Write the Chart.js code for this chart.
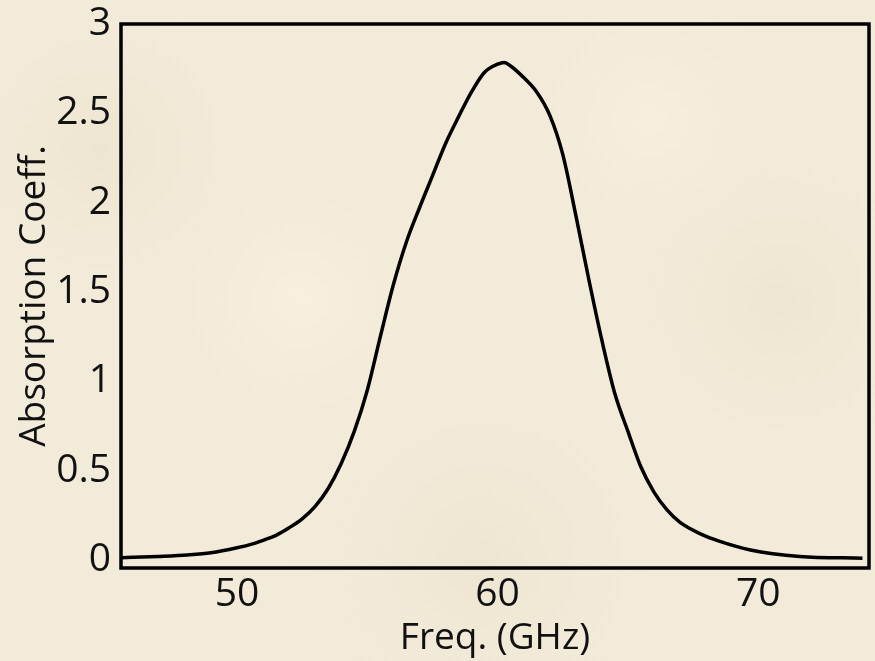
<!DOCTYPE html>
<html>
<head>
<meta charset="utf-8">
<script src="https://cdn.jsdelivr.net/npm/chart.js@4/dist/chart.umd.min.js"></script>
<style>
  html, body { margin: 0; padding: 0; background: #f2ebd9; }
  #wrap { width: 875px; height: 661px; position: relative; }
</style>
</head>
<body>
<div id="wrap"><canvas id="c" width="875" height="661"></canvas></div>
<script>
// ---- data ----
const freqGHz = [45.5, 47.0, 48.1, 49.0, 50.0, 50.6, 51.0, 51.5, 52.0, 52.5, 53.0, 53.5, 54.0, 54.5, 55.0, 55.5, 56.0, 56.5, 57.0, 57.5, 58.0, 58.5, 59.0, 59.5, 60.0, 60.25, 60.5, 61.0, 61.5, 62.0, 62.5, 63.0, 63.5, 64.0, 64.5, 65.0, 65.5, 66.0, 66.5, 67.0, 67.8, 68.5, 69.7, 71.6, 74.0];
const absorption = [0.012, 0.02, 0.028, 0.04, 0.068, 0.09, 0.11, 0.138, 0.18, 0.23, 0.30, 0.40, 0.54, 0.72, 0.95, 1.25, 1.54, 1.78, 1.97, 2.15, 2.33, 2.48, 2.62, 2.73, 2.775, 2.785, 2.765, 2.70, 2.62, 2.49, 2.27, 1.93, 1.57, 1.23, 0.93, 0.72, 0.52, 0.38, 0.28, 0.21, 0.145, 0.105, 0.056, 0.02, 0.01];
const xTicks = [50, 60, 70];
const xTickLabels = ['50', '60', '70'];
const yTicks = [0, 0.5, 1, 1.5, 2, 2.5, 3];
const yTickLabels = ['0', '0.5', '1', '1.5', '2', '2.5', '3'];
const xTitle = 'Freq. (GHz)';
const yTitle = 'Absorption Coeff.';

const points = freqGHz.map((f, i) => ({ x: f, y: absorption[i] }));

const bgPlugin = {
  id: 'bg',
  beforeDraw(chart) {
    const ctx = chart.ctx;
    ctx.save();
    ctx.fillStyle = '#f2ebd9';
    ctx.fillRect(0, 0, chart.width, chart.height);
    const spots = [[100, 150, 160, 'rgba(232,223,200,0.5)'], [780, 300, 180, 'rgba(232,223,200,0.45)'],
                   [480, 560, 200, 'rgba(228,219,196,0.35)'], [300, 300, 150, 'rgba(250,244,228,0.6)'],
                   [650, 120, 140, 'rgba(250,244,228,0.5)']];
    spots.forEach(([x, y, r, c]) => {
      const g = ctx.createRadialGradient(x, y, 0, x, y, r);
      g.addColorStop(0, c);
      g.addColorStop(1, 'rgba(242,235,217,0)');
      ctx.fillStyle = g;
      ctx.fillRect(0, 0, chart.width, chart.height);
    });
    ctx.restore();
  },
  afterDatasetsDraw(chart) {
    const { ctx, chartArea: a } = chart;
    ctx.save();
    ctx.strokeStyle = '#000';
    ctx.lineWidth = 3.5;
    ctx.strokeRect(a.left, a.top, a.right - a.left, a.bottom - a.top);
    ctx.restore();
  }
};

new Chart(document.getElementById('c'), {
  type: 'line',
  data: {
    datasets: [{
      data: points,
      borderColor: '#000',
      borderWidth: 3.5,
      pointRadius: 0,
      fill: false,
      cubicInterpolationMode: 'monotone'
    }]
  },
  options: {
    responsive: false,
    animation: false,
    layout: { padding: { top: 24, right: 6, left: 0, bottom: 0 } },
    plugins: { legend: { display: false }, tooltip: { enabled: false } },
    scales: {
      x: {
        type: 'linear',
        min: 45.55,
        max: 74.25,
        grid: { display: false, drawTicks: false },
        border: { display: false },
        afterBuildTicks: axis => { axis.ticks = xTicks.map(v => ({ value: v })); },
        afterFit: axis => { axis.height = 93; axis.paddingLeft = 0; axis.paddingRight = 0; },
        ticks: {
          color: '#111',
          padding: 3,
          maxRotation: 0,
          font: { family: 'Open Sans', size: 39 },
          callback: (v) => { const i = xTicks.indexOf(v); return i >= 0 ? xTickLabels[i] : ''; }
        },
        title: {
          display: true,
          text: xTitle,
          color: '#111',
          font: { family: 'Open Sans', size: 37 },
          padding: { top: 0, bottom: 0 }
        }
      },
      y: {
        type: 'linear',
        min: -0.045,
        max: 3,
        grid: { display: false, drawTicks: false },
        border: { display: false },
        afterBuildTicks: axis => { axis.ticks = yTicks.map(v => ({ value: v })); },
        afterFit: axis => { axis.width = 121; axis.paddingTop = 0; axis.paddingBottom = 0; },
        ticks: {
          color: '#111',
          padding: 10,
          font: { family: 'Open Sans', size: 39 },
          callback: (v) => { const i = yTicks.indexOf(v); return i >= 0 ? yTickLabels[i] : ''; }
        },
        title: {
          display: true,
          text: yTitle,
          color: '#111',
          font: { family: 'Open Sans', size: 37 },
          padding: { top: 12, bottom: 0 }
        }
      }
    }
  },
  plugins: [bgPlugin]
});
</script>
</body>
</html>
